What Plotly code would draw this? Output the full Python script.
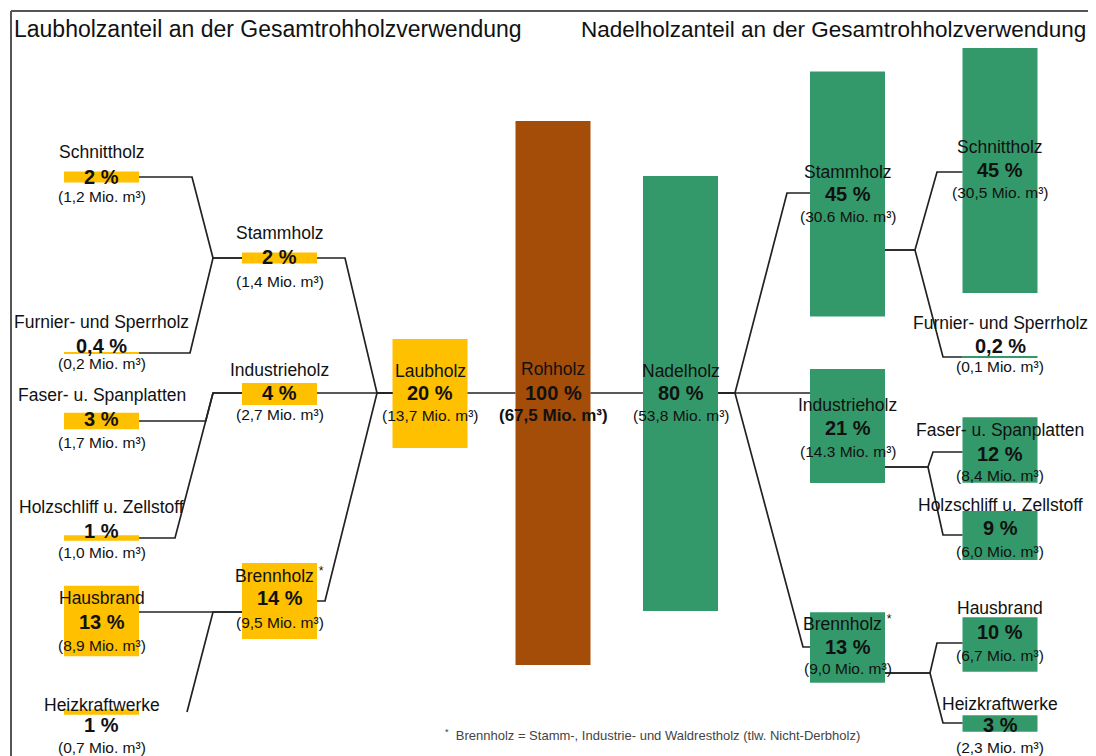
import plotly.graph_objects as go

# ---------------- data ----------------
laub_categories = ["Schnittholz", "Furnier- und Sperrholz", "Stammholz",
                   "Faser- u. Spanplatten", "Holzschliff u. Zellstoff", "Industrieholz",
                   "Hausbrand", "Heizkraftwerke", "Brennholz"]
laub_pct = [2, 0.4, 2, 3, 1, 4, 13, 1, 14]
laub_amount = ["1,2", "0,2", "1,4", "1,7", "1,0", "2,7", "8,9", "0,7", "9,5"]

center_categories = ["Laubholz", "Rohholz", "Nadelholz"]
center_pct = [20, 100, 80]
center_amount = ["13,7", "67,5", "53,8"]

nadel_categories = ["Stammholz", "Schnittholz", "Furnier- und Sperrholz",
                    "Industrieholz", "Faser- u. Spanplatten", "Holzschliff u. Zellstoff",
                    "Brennholz", "Hausbrand", "Heizkraftwerke"]
nadel_pct = [45, 45, 0.2, 21, 12, 9, 13, 10, 3]
nadel_amount = ["30.6", "30,5", "0,1", "14.3", "8,4", "6,0", "9,0", "6,7", "2,3"]

title_left = "Laubholzanteil an der Gesamtrohholzverwendung"
title_right = "Nadelholzanteil an der Gesamtrohholzverwendung"
footnote = "<sup>*</sup>  Brennholz = Stamm-, Industrie- und Waldrestholz (tlw. Nicht-Derbholz)"

# ---------------- layout (positions in page px, styles) ----------------
W, H = 1096, 756
OFF = 8           # page body margin in the browser
K = 5.44          # px per percentage point
BOX_W = 75
FONT = "Liberation Sans, Arial, sans-serif"
COL_LAUB, COL_ROH, COL_NADEL = "#FFC000", "#A44D08", "#34996A"
LINE_COL = "#222222"

# (cx, box centre y, name y, pct y, amount y)
laub_pos = [(101.5, 177, 152, 177, 196), (101.5, 353, 322, 346, 363),
            (279.5, 258, 233, 257, 281), (101.5, 421, 395, 419, 442),
            (101.5, 538, 507, 531, 552), (279.5, 394, 370, 393, 414),
            (101.5, 621, 598, 622, 645), (101.5, 712, 705, 725, 747),
            (279.5, 601, 575, 598, 622)]
center_pos = [(430, 393.5, 371, 393, 415), (553, 393, 369, 393, 415),
              (680.5, 393.5, 371, 393, 415)]
nadel_pos = [(847.5, 194, 172, 194, 216), (1000, 170.5, 147, 170, 192),
             (1000, 357, 323, 346, 366), (847.5, 426, 405, 428, 451),
             (1000, 450, 430, 454, 475), (1000, 535.5, 505, 528, 551),
             (847.5, 647.5, 623, 647, 668), (1000, 644.5, 608, 632, 655),
             (1000, 723.5, 704, 725, 747)]
POS = {"L": laub_pos, "C": center_pos, "R": nadel_pos}

# connectors: (left node, right node, y at left, y at right, kink1 x, kink2 x, draw left stub)
connectors = [
    (("L", 0), ("L", 2), 177, 258, 192, 213, True),
    (("L", 1), ("L", 2), 353, 258, 190, 213, True),
    (("L", 3), ("L", 5), 421, 393, 205.7, 213, True),
    (("L", 4), ("L", 5), 538, 393, 175, 213, True),
    (("L", 6), ("L", 8), 612, 612, 213, 213, True),
    (("L", 7), ("L", 8), 712, 612, 187, 213, False),
    (("L", 2), ("C", 0), 258, 393, 345, 377, True),
    (("L", 5), ("C", 0), 393, 393, 377, 377, True),
    (("L", 8), ("C", 0), 601, 393, 325, 377, True),
    (("C", 0), ("C", 1), 393, 393, 490, 490, True),
    (("C", 1), ("C", 2), 393, 393, 615, 615, True),
    (("C", 2), ("R", 0), 393, 193, 735, 787, True),
    (("C", 2), ("R", 3), 393, 393, 760, 760, True),
    (("C", 2), ("R", 6), 393, 647, 735, 803, True),
    (("R", 0), ("R", 1), 250, 172, 915, 937, True),
    (("R", 0), ("R", 2), 250, 357, 915, 943, True),
    (("R", 3), ("R", 4), 467, 452, 928, 933, True),
    (("R", 3), ("R", 5), 467, 535, 928, 943, True),
    (("R", 6), ("R", 7), 673, 643, 930, 937, True),
    (("R", 6), ("R", 8), 673, 723, 930, 943, True),
]


def u(px):
    return px / K


def fmt_pct(v):
    return f"{v:g}".replace(".", ",") + " %"


fig = go.Figure()

# connector lines
lx, ly = [], []
for a, b, ya, yb, k1, k2, stub in connectors:
    xa = POS[a[0]][a[1]][0] + BOX_W / 2
    xb = POS[b[0]][b[1]][0] - BOX_W / 2
    pts = ([(xa, ya)] if stub else []) + [(k1, ya), (k2, yb), (xb, yb)]
    for x, y in pts:
        lx.append(x)
        ly.append(u(y))
    lx.append(None)
    ly.append(None)
fig.add_trace(go.Scatter(x=lx, y=ly, mode="lines", line=dict(color=LINE_COL, width=1.7),
                         hoverinfo="skip", showlegend=False))


# boxes
def add_boxes(pos, pct, colors):
    fig.add_trace(go.Bar(
        x=[p[0] for p in pos], y=pct,
        base=[u(p[1]) - v / 2 for p, v in zip(pos, pct)],
        width=[BOX_W] * len(pos),
        marker=dict(color=colors, line=dict(width=0)),
        hoverinfo="skip", showlegend=False))


add_boxes(laub_pos, laub_pct, [COL_LAUB] * len(laub_pct))
add_boxes(center_pos, center_pct, [COL_LAUB, COL_ROH, COL_NADEL])
add_boxes(nadel_pos, nadel_pct, [COL_NADEL] * len(nadel_pct))

# labels
ann = []


def add_labels(cats, pct, amt, pos, bold_amount=()):
    for i, (c, v, a, p) in enumerate(zip(cats, pct, amt, pos)):
        name = c + (" <sup>*</sup>" if c == "Brennholz" else "")
        amount = f"({a} Mio. m³)"
        if i in bold_amount:
            amount = f"<b>{amount}</b>"
        for txt, y, size in ((name, p[2], 17.5), (f"<b>{fmt_pct(v)}</b>", p[3], 20),
                             (amount, p[4], 15.5 if i not in bold_amount else 17)):
            ann.append(dict(x=p[0], y=u(y), text=txt, showarrow=False,
                            xanchor="center", yanchor="middle",
                            font=dict(family=FONT, size=size, color="#111111")))


add_labels(laub_categories, laub_pct, laub_amount, laub_pos)
add_labels(center_categories, center_pct, center_amount, center_pos, bold_amount=(1,))
add_labels(nadel_categories, nadel_pct, nadel_amount, nadel_pos)

ann.append(dict(x=12, y=u(29), text=title_left, showarrow=False, xanchor="left",
                yanchor="middle", font=dict(family=FONT, size=23, color="#111111")))
ann.append(dict(x=579, y=u(29), text=title_right, showarrow=False, xanchor="left",
                yanchor="middle", font=dict(family=FONT, size=22.5, color="#111111")))
ann.append(dict(x=652, y=u(735), text=footnote, showarrow=False, xanchor="center",
                yanchor="middle", font=dict(family=FONT, size=13, color="#444444")))

# frame
frame = [
    dict(type="line", x0=11, x1=1094, y0=u(11), y1=u(11)),
    dict(type="line", x0=11, x1=11, y0=u(11), y1=u(H)),
    dict(type="line", x0=1094, x1=1094, y0=u(11), y1=u(H)),
]
for s in frame:
    s.update(xref="x", yref="y", line=dict(color="#555555", width=2))

fig.update_layout(
    width=W - OFF, height=H - OFF, margin=dict(l=0, r=0, t=0, b=0),
    paper_bgcolor="white", plot_bgcolor="white",
    barmode="overlay", showlegend=False,
    xaxis=dict(range=[OFF, W], visible=False, fixedrange=True),
    yaxis=dict(range=[u(H), u(OFF)], visible=False, fixedrange=True),
    annotations=ann, shapes=frame,
)

fig.write_html("out.html")
